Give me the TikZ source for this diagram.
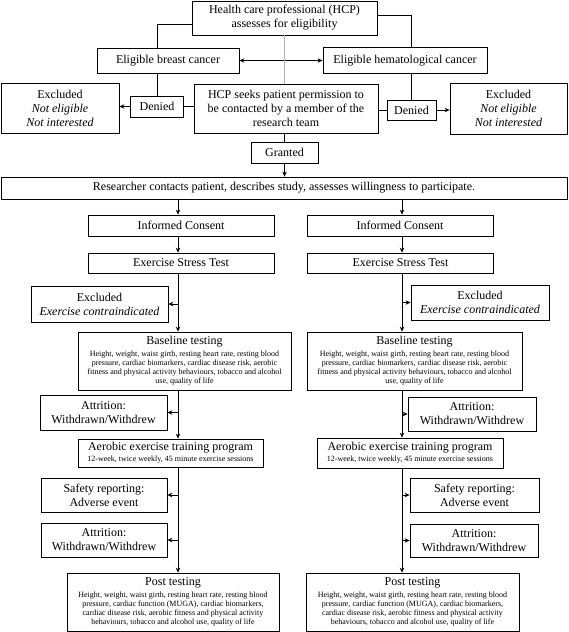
\documentclass[tikz,border=0pt]{standalone}
\usepackage{fontspec}
\setmainfont{Liberation Serif}
\usepackage{tikz}
\usetikzlibrary{arrows.meta}
\newcommand{\fineprint}{\fontsize{8}{9}\selectfont}

\begin{document}
\begin{tikzpicture}
            [
                x=1pt, y=-1pt,
                line width=0.8pt,
                >={Stealth[length=5pt,width=4.5pt]},
                font=\fontsize{12}{14}\selectfont
            ]
            \tikzset{
                flowbox/.style = {rectangle, draw=black, align=center, inner sep=0pt},
                boxsize/.style 2 args = {minimum width=#1pt, minimum height=#2pt},
                thinlink/.style = {draw=gray!60, line width=0.5pt}
            }
            \useasboundingbox (0,0) rectangle (568,632);
            \coordinate (colL) at (178,0);
            \coordinate (colR) at (402,0);
            % screening
            \node[flowbox, boxsize={185}{34}] (hcp) at (284.5,18) {Health care professional (HCP)\\ assesses for eligibility};
            \node[flowbox, boxsize={142}{25}] (breast) at (168,60.5) {Eligible breast cancer};
            \node[flowbox, boxsize={164}{26}] (hemat) at (405,60.5) {Eligible hematological cancer};
            \node[flowbox, boxsize={118}{50}] (exclL) at (60,108) {Excluded\\ \textit{Not eligible}\\ \textit{Not interested}};
            \node[flowbox, boxsize={53}{21}] (deniedL) at (157,106.5) {Denied};
            \node[flowbox, boxsize={184}{49}] (seek) at (286,108.5) {HCP seeks patient permission to\\ be contacted by a member of the\\ research team};
            \node[flowbox, boxsize={49}{20}] (deniedR) at (411.5,110) {Denied};
            \node[flowbox, boxsize={117}{51}] (exclR) at (508.5,108.5) {Excluded\\ \textit{Not eligible}\\ \textit{Not interested}};
            \node[flowbox, boxsize={67}{21}] (granted) at (284.5,152.5) {Granted};
            \node[flowbox, boxsize={566}{22}] (contact) at (284,188) {Researcher contacts patient, describes study, assesses willingness to participate.};
            \draw ([yshift=-6pt]hcp.west) -| (breast.north -| deniedL.north);
            \draw (breast.south -| deniedL.north) -- (deniedL.north);
            \draw ([yshift=3pt]hcp.east) -| (hemat.north -| deniedR.north);
            \draw (hemat.south -| deniedR.north) -- (deniedR.north);
            \draw[<->] (breast.east) -- (hemat.west);
            \draw[thinlink] (hcp.south) -- (seek.north -| hcp.south);
            \draw (seek.west |- deniedL.east) -- (deniedL.east);
            \draw[->] (deniedL.west) -- (exclL.east |- deniedL.west);
            \draw (seek.east |- deniedR.west) -- (deniedR.west);
            \draw[->] (deniedR.east) -- (exclR.west |- deniedR.east);
            \draw (seek.south -| granted.north) -- (granted.north);
            \draw[->] (granted.south) -- (contact.north -| granted.south);
            % breast cancer arm
            \node[flowbox, boxsize={186}{21}] (consentL) at (181,225.5) {Informed Consent};
            \node[flowbox, boxsize={186}{20}] (estL) at (181,263) {Exercise Stress Test};
            \node[flowbox, boxsize={137}{36}] (exclEL) at (99.5,304) {Excluded\\ \textit{Exercise contraindicated}};
            \node[flowbox, boxsize={213}{58}] (baseL) at (184.5,361) {Baseline testing\\[-2pt] \fineprint Height, weight, waist girth, resting heart rate, resting blood\\[-5pt] \fineprint pressure, cardiac biomarkers, cardiac disease risk, aerobic\\[-5pt] \fineprint fitness and physical activity behaviours, tobacco and alcohol\\[-5pt] \fineprint use, quality of life};
            \node[flowbox, boxsize={127}{35}] (attrL) at (103.5,412.5) {Attrition:\\ Withdrawn/Withdrew};
            \node[flowbox, boxsize={185}{28}] (aeroL) at (170.5,453) {Aerobic exercise training program\\[-3pt] \fineprint 12-week, twice weekly, 45 minute exercise sessions};
            \node[flowbox, boxsize={126}{34}] (safeL) at (104,495) {Safety reporting:\\ Adverse event};
            \node[flowbox, boxsize={126}{34}] (quitL) at (104,540) {Attrition:\\ Withdrawn/Withdrew};
            \node[flowbox, boxsize={212}{58}] (postL) at (173,602) {Post testing\\[-2pt] \fineprint Height, weight, waist girth, resting heart rate, resting blood\\[-5pt] \fineprint pressure, cardiac function (MUGA), cardiac biomarkers,\\[-5pt] \fineprint cardiac disease risk, aerobic fitness and physical activity\\[-5pt] \fineprint behaviours, tobacco and alcohol use, quality of life};
            \draw[->] (contact.south -| colL) -- (consentL.north -| colL);
            \draw[->] (consentL.south -| colL) -- (estL.north -| colL);
            \draw[->] (estL.south -| colL) -- (baseL.north -| colL);
            \draw[->] (baseL.south -| colL) -- (aeroL.north -| colL);
            \draw[->] (aeroL.south -| colL) -- (postL.north -| colL);
            \draw[->] (exclEL.east -| colL) -- (exclEL.east);
            \draw[->] (attrL.east -| colL) -- (attrL.east);
            \draw[->] (safeL.east -| colL) -- (safeL.east);
            \draw[->] (quitL.east -| colL) -- (quitL.east);
            % hematological cancer arm
            \node[flowbox, boxsize={186}{21}] (consentR) at (400,225.5) {Informed Consent};
            \node[flowbox, boxsize={186}{20}] (estR) at (400.5,263) {Exercise Stress Test};
            \node[flowbox, boxsize={138}{35}] (exclER) at (480,302.5) {Excluded\\ \textit{Exercise contraindicated}};
            \node[flowbox, boxsize={215}{58}] (baseR) at (414.5,361) {Baseline testing\\[-2pt] \fineprint Height, weight, waist girth, resting heart rate, resting blood\\[-5pt] \fineprint pressure, cardiac biomarkers, cardiac disease risk, aerobic\\[-5pt] \fineprint fitness and physical activity behaviours, tobacco and alcohol\\[-5pt] \fineprint use, quality of life};
            \node[flowbox, boxsize={128}{34}] (attrR) at (472,414) {Attrition:\\ Withdrawn/Withdrew};
            \node[flowbox, boxsize={186}{30}] (aeroR) at (410,453) {Aerobic exercise training program\\[-3pt] \fineprint 12-week, twice weekly, 45 minute exercise sessions};
            \node[flowbox, boxsize={129}{34}] (safeR) at (474.5,495) {Safety reporting:\\ Adverse event};
            \node[flowbox, boxsize={128}{33}] (quitR) at (474,540.5) {Attrition:\\ Withdrawn/Withdrew};
            \node[flowbox, boxsize={213}{58}] (postR) at (412.5,602) {Post testing\\[-2pt] \fineprint Height, weight, waist girth, resting heart rate, resting blood\\[-5pt] \fineprint pressure, cardiac function (MUGA), cardiac biomarkers,\\[-5pt] \fineprint cardiac disease risk, aerobic fitness and physical activity\\[-5pt] \fineprint behaviours, tobacco and alcohol use, quality of life};
            \draw[->] (contact.south -| colR) -- (consentR.north -| colR);
            \draw[->] (consentR.south -| colR) -- (estR.north -| colR);
            \draw[->] (estR.south -| colR) -- (baseR.north -| colR);
            \draw[->] (baseR.south -| colR) -- (aeroR.north -| colR);
            \draw[->] (aeroR.south -| colR) -- (postR.north -| colR);
            \draw[->] (exclER.west -| colR) -- (exclER.west);
            \draw[->] (attrR.west -| colR) -- (attrR.west);
            \draw[->] (safeR.west -| colR) -- (safeR.west);
            \draw[->] (quitR.west -| colR) -- (quitR.west);
\end{tikzpicture}
\end{document}
